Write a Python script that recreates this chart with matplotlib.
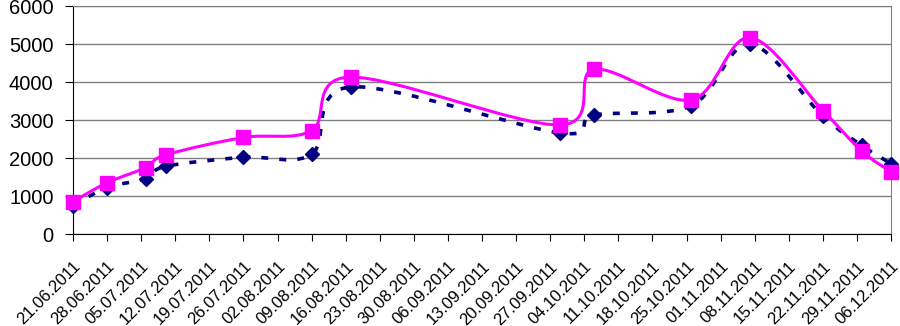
import numpy as np
import pandas as pd
import matplotlib
matplotlib.use("Agg")
import matplotlib.pyplot as plt
import matplotlib.dates as mdates
import matplotlib.transforms as mtransforms
from matplotlib.path import Path
from matplotlib.patches import PathPatch

plt.rcParams['font.family'] = ['Liberation Sans', 'DejaVu Sans']
plt.rcParams['lines.scale_dashes'] = False

# series 1 (navy diamonds, dotted smoothed line)
dates = ["21.06.2011", "28.06.2011", "06.07.2011", "10.07.2011", "26.07.2011",
         "09.08.2011", "17.08.2011", "29.09.2011", "06.10.2011", "26.10.2011",
         "07.11.2011", "22.11.2011", "30.11.2011", "06.12.2011"]
navy = [750, 1220, 1460, 1780, 2020, 2100, 3870, 2660, 3130, 3380, 5000, 3100, 2330, 1850]
# series 2 (magenta squares, solid smoothed line)
magenta = [850, 1350, 1750, 2080, 2540, 2720, 4130, 2870, 4330, 3530, 5170, 3250, 2180, 1640]

tick_start = "21.06.2011"
tick_end = "06.12.2011"


def smooth_path(x, y):
    # Catmull-Rom style bezier, like a spreadsheet "smoothed line"
    p = np.column_stack([x, y])
    verts = [p[0]]
    codes = [Path.MOVETO]
    n = len(p)
    for i in range(n - 1):
        p0 = p[i - 1] if i > 0 else p[i]
        p3 = p[i + 2] if i + 2 < n else p[i + 1]
        c1 = p[i] + (p[i + 1] - p0) / 6.0
        c2 = p[i + 1] - (p3 - p[i]) / 6.0
        verts += [c1, c2, p[i + 1]]
        codes += [Path.CURVE4] * 3
    return Path(verts, codes)


x = mdates.date2num(pd.to_datetime(dates, format="%d.%m.%Y"))
ticks = pd.date_range(pd.to_datetime(tick_start, format="%d.%m.%Y"),
                      pd.to_datetime(tick_end, format="%d.%m.%Y"), freq="7D")
tx = mdates.date2num(ticks)

fig = plt.figure(figsize=(9, 3.26), dpi=100)
ax = fig.add_axes([73 / 900, 92 / 326, 818 / 900, 228 / 326])

ax.add_patch(PathPatch(smooth_path(x, navy), facecolor='none', edgecolor='#000080',
                       lw=2.6, linestyle=(0, (5, 8)), capstyle='butt', zorder=3, clip_on=False))
ax.plot(x, navy, linestyle='none', marker='D', ms=7, color='#000080', mec='#000080',
        zorder=4, clip_on=False)

ax.add_patch(PathPatch(smooth_path(x, magenta), facecolor='none', edgecolor='#FF00FF',
                       lw=2.2, zorder=5, clip_on=False))
ax.plot(x, magenta, linestyle='none', marker='s', ms=10, color='#FF00FF', mec='#FF00FF',
        zorder=6, clip_on=False)

ax.set_xlim(tx[0], tx[-1])
ax.set_ylim(0, 6000)
ax.set_yticks(np.arange(0, 6001, 1000))
ax.set_xticks(tx)
ax.set_xticklabels([t.strftime("%d.%m.%Y") for t in ticks], rotation=45, ha='right',
                   rotation_mode='anchor', fontsize=12)
shift = mtransforms.ScaledTranslation(-0.08, 0, fig.dpi_scale_trans)
for lab in ax.get_xticklabels():
    lab.set_transform(lab.get_transform() + shift)
ax.tick_params(axis='y', labelsize=14.5, length=6, direction='out', pad=8)
ax.tick_params(axis='x', length=5, direction='out', pad=13)
ax.grid(axis='y', color='#808080', lw=1)
ax.set_axisbelow(True)
for s in ['top', 'right']:
    ax.spines[s].set_color('#808080')
for s in ['left', 'bottom']:
    ax.spines[s].set_color('black')

fig.savefig("out.png", dpi=100)
